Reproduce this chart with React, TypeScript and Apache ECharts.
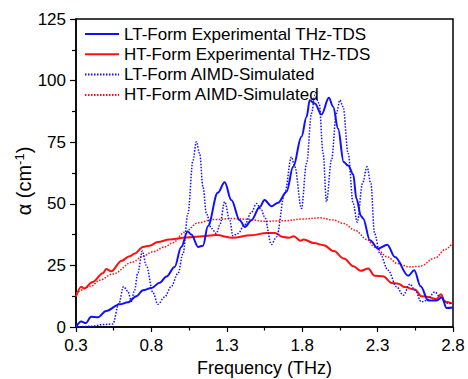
import React, { useEffect, useRef } from "react";
import * as echarts from "echarts";

const FONT = '"Liberation Sans", Arial, sans-serif';

const ltExpFreq = [0.30, 0.335, 0.365, 0.40, 0.445, 0.50, 0.59, 0.644, 0.70, 0.744, 0.80, 0.855, 0.90, 0.954, 0.998, 1.04, 1.065, 1.11, 1.142, 1.175, 1.24, 1.286, 1.33, 1.386, 1.42, 1.463, 1.518, 1.55, 1.596, 1.64, 1.696, 1.74, 1.795, 1.829, 1.85, 1.884, 1.928, 1.977, 2.005, 2.038, 2.075, 2.105, 2.138, 2.16, 2.19, 2.204, 2.249, 2.304, 2.364, 2.415, 2.503, 2.543, 2.585, 2.636, 2.692, 2.725, 2.758, 2.8];
const ltExpAlpha = [0, 2.2, 1.6, 4.2, 4, 6.5, 9.2, 10, 12.5, 14.9, 15.8, 18, 20.5, 24.4, 32.5, 38.8, 37.5, 32.5, 33, 41, 54.5, 58.7, 51.5, 43.3, 40.6, 43.3, 48.7, 51.5, 49, 50.4, 54.9, 65, 77.2, 85.3, 92, 90.7, 86.2, 93, 89.4, 80.5, 67, 65.5, 62, 52, 45, 44, 35.2, 31.8, 33.4, 28.4, 20.8, 23, 16.5, 10.8, 10.8, 12, 7.7, 7.9];

const htExpFreq = [0.30, 0.335, 0.355, 0.41, 0.478, 0.50, 0.534, 0.60, 0.655, 0.69, 0.744, 0.788, 0.843, 0.92, 1.03, 1.12, 1.23, 1.34, 1.457, 1.567, 1.62, 1.667, 1.71, 1.744, 1.789, 1.81, 1.877, 1.943, 2.01, 2.076, 2.14, 2.187, 2.238, 2.28, 2.337, 2.393, 2.437, 2.48, 2.548, 2.59, 2.636, 2.69, 2.72, 2.747, 2.8];
const htExpAlpha = [12.3, 16.3, 15.6, 18.3, 21.8, 23.5, 22.6, 26.8, 28.7, 29.8, 32.5, 33, 34.5, 35.5, 36.3, 36.7, 37.3, 36.2, 37.2, 38.2, 38.2, 36.6, 36.2, 36.8, 35, 35.5, 34.1, 33.2, 30.8, 27.8, 24.7, 22.8, 23.7, 20.8, 20.6, 17.9, 17.6, 16.2, 15.2, 12.5, 12.2, 11.3, 13.3, 10.2, 9.5];

const ltSimFreq = [0.30, 0.40, 0.48, 0.544, 0.584, 0.615, 0.644, 0.667, 0.688, 0.71, 0.74, 0.766, 0.81, 0.843, 0.888, 0.93, 0.976, 1.01, 1.042, 1.076, 1.098, 1.12, 1.142, 1.165, 1.198, 1.231, 1.253, 1.286, 1.32, 1.34, 1.374, 1.418, 1.463, 1.497, 1.53, 1.55, 1.596, 1.63, 1.684, 1.729, 1.751, 1.795, 1.829, 1.862, 1.884, 1.912, 1.939, 1.961, 1.994, 2.027, 2.05, 2.071, 2.105, 2.138, 2.165, 2.2, 2.23, 2.255, 2.28, 2.315, 2.37, 2.426, 2.47, 2.514, 2.548, 2.59, 2.626, 2.68, 2.714, 2.77, 2.8];
const ltSimAlpha = [0, 0.3, 1, 1.2, 9.5, 16.4, 14.5, 10.5, 14.9, 22, 30.8, 25, 14, 9.2, 12.2, 16.3, 21.7, 29.8, 46, 67.7, 75.2, 70.4, 56.9, 46, 40, 37.9, 41.3, 50.8, 43.3, 37, 37.9, 41.5, 46.5, 50.1, 47.5, 44.7, 33.5, 36.6, 54.2, 69, 65, 48.1, 66.4, 86.7, 94.1, 90.8, 70.4, 50.8, 67.7, 86.7, 92.1, 89.4, 70.4, 50.1, 42.5, 58.3, 65, 58.3, 37.9, 29.8, 23, 16.3, 12.9, 17.4, 14.9, 10.2, 10.8, 14.2, 12.2, 9.5, 9.5];

const htSimFreq = [0.30, 0.40, 0.456, 0.544, 0.677, 0.744, 0.81, 0.888, 0.943, 1.02, 1.11, 1.21, 1.34, 1.44, 1.55, 1.68, 1.80, 1.92, 2.00, 2.076, 2.149, 2.23, 2.28, 2.364, 2.43, 2.51, 2.58, 2.68, 2.75, 2.8];
const htSimAlpha = [13.6, 16.5, 19, 21.5, 26.4, 28.8, 30.5, 32.5, 34.2, 38.5, 42.3, 43.6, 44, 43.7, 42.9, 43.1, 43.8, 44.3, 43.5, 42, 39.3, 35.5, 32.5, 28.5, 25.8, 24.4, 24.6, 28, 31.5, 34.3];

const seriesNames = [
  "LT-Form Experimental THz-TDS",
  "HT-Form Experimental THz-TDS",
  "LT-Form AIMD-Simulated",
  "HT-Form AIMD-Simulated",
];

const BLUE = "#1010ff";
const RED = "#ff1010";

function zip(xs: number[], ys: number[]) {
  return xs.map((x, i) => [x, ys[i]]);
}

export default function App() {
  const ref = useRef<HTMLDivElement>(null);
  useEffect(() => {
    if (!ref.current) return;
    const chart = echarts.init(ref.current, undefined, { renderer: "svg" });
    const line = (name: string, xs: number[], ys: number[], color: string, dotted: boolean) => ({
      name,
      type: "line",
      data: zip(xs, ys),
      symbol: "none",
      smooth: 0.35,
      smoothMonotone: "x",
      itemStyle: { color },
      lineStyle: dotted
        ? { color, width: 1.5, type: [1.5, 1.5] }
        : { color, width: 2, type: "solid" },
    });
    chart.setOption({
      animation: false,
      backgroundColor: "#ffffff",
      grid: {
        left: 76,
        right: 15,
        top: 19,
        bottom: 52,
        containLabel: false,
        outerBoundsMode: "none",
        show: true,
        borderColor: "#000",
        borderWidth: 1.5,
        backgroundColor: "transparent",
      },
      legend: {
        orient: "vertical",
        left: 79,
        top: 20,
        itemWidth: 34,
        itemHeight: 12,
        itemGap: 2.3,
        itemStyle: { opacity: 0 },
        textStyle: { fontFamily: FONT, fontSize: 17, color: "#000", lineHeight: 18 },
        data: seriesNames,
      },
      graphic: [
        {
          type: "text",
          x: 23.5,
          y: 181,
          rotation: Math.PI / 2,
          silent: true,
          style: {
            text: "{a|α (cm}{s|-1}{a|)}",
            align: "center",
            verticalAlign: "middle",
            rich: {
              a: { fontFamily: FONT, fontSize: 20, fill: "#000", lineHeight: 22 },
              s: { fontFamily: FONT, fontSize: 13, fill: "#000", lineHeight: 12, verticalAlign: "top" },
            },
          },
        },
      ],
      xAxis: {
        type: "value",
        min: 0.3,
        max: 2.8,
        interval: 0.5,
        name: "Frequency (THz)",
        nameLocation: "middle",
        nameGap: 32,
        nameTextStyle: { fontFamily: FONT, fontSize: 18, color: "#000" },
        axisLine: { lineStyle: { color: "#000", width: 1.5 } },
        axisTick: { inside: false, length: 5, lineStyle: { color: "#000", width: 1.2 } },
        minorTick: { show: true, splitNumber: 2, length: 3.5, lineStyle: { color: "#000", width: 1.2 } },
        splitLine: { show: false },
        axisLabel: {
          fontFamily: FONT,
          fontSize: 17,
          color: "#000",
          margin: 10,
          formatter: (v: number) => v.toFixed(1),
        },
      },
      yAxis: {
        type: "value",
        min: 0,
        max: 125,
        interval: 25,
        axisLine: { show: true, lineStyle: { color: "#000", width: 1.5 } },
        axisTick: { show: true, inside: false, length: 6, lineStyle: { color: "#000", width: 1.2 } },
        minorTick: { show: true, splitNumber: 2, length: 4, lineStyle: { color: "#000", width: 1.2 } },
        splitLine: { show: false },
        axisLabel: { fontFamily: FONT, fontSize: 17, color: "#000", margin: 10 },
      },
      series: [
        line(seriesNames[3], htSimFreq, htSimAlpha, RED, true),
        line(seriesNames[1], htExpFreq, htExpAlpha, RED, false),
        line(seriesNames[2], ltSimFreq, ltSimAlpha, BLUE, true),
        line(seriesNames[0], ltExpFreq, ltExpAlpha, BLUE, false),
      ],
    });
    return () => chart.dispose();
  }, []);
  return (
    <div
      ref={ref}
      style={{ position: "fixed", left: 0, top: 0, width: 468, height: 379, background: "#fff" }}
    />
  );
}
